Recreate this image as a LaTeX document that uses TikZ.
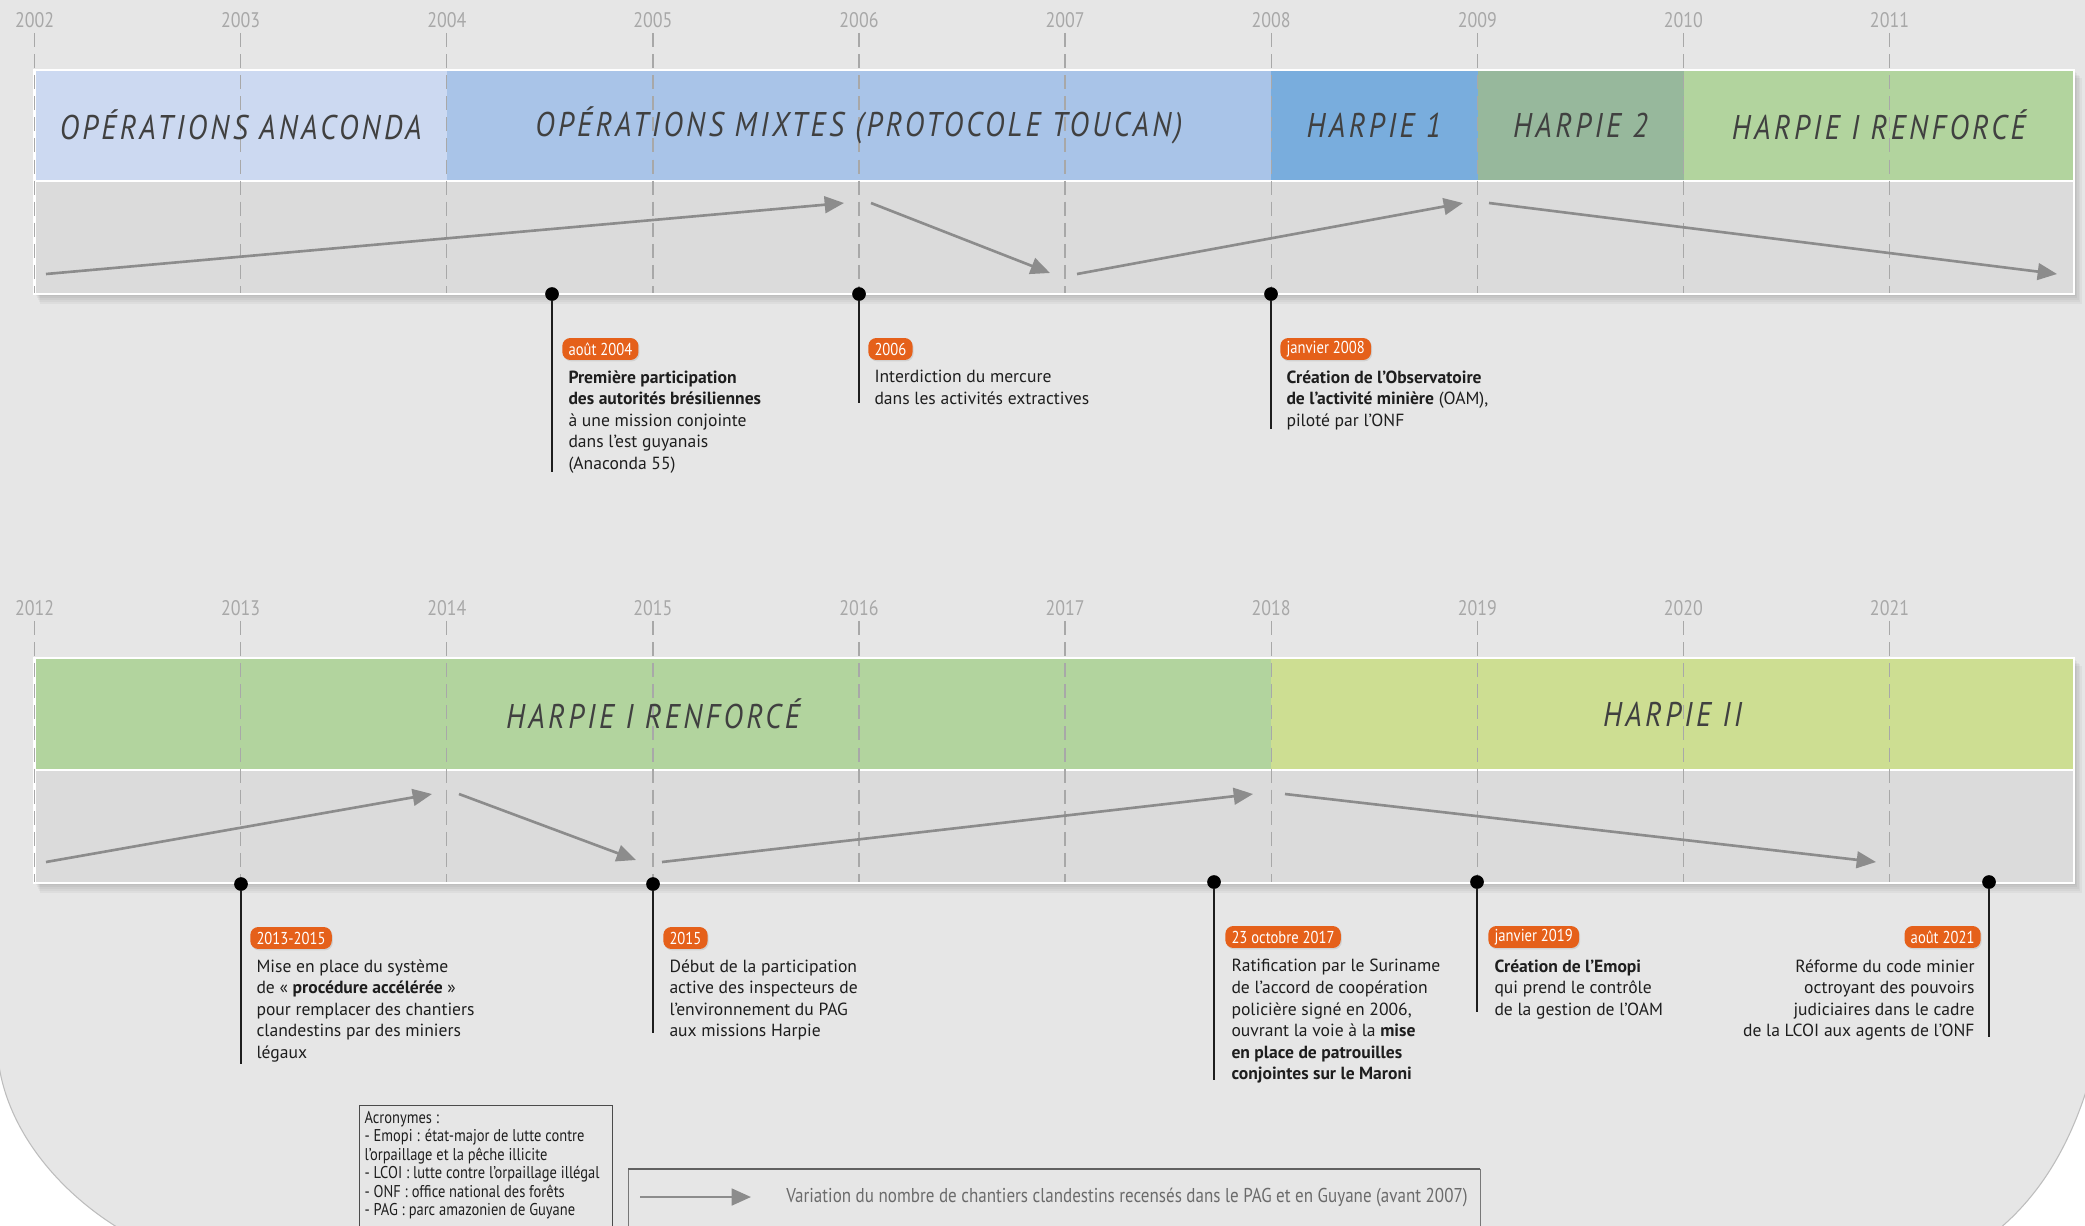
\documentclass[tikz,border=0pt]{standalone}
\usepackage{fontspec}
\setmainfont{PT Sans}
\newfontfamily\phasefont[FakeStretch=0.86, LetterSpace=10]{PT Sans}
\newfontfamily\condfont[FakeStretch=0.85]{PT Sans}
\usepackage{tikz}
\usetikzlibrary{arrows.meta, positioning, shadows}
\definecolor{page}    {HTML}{E6E6E6}
\definecolor{rim}     {HTML}{BDBDBD}
\definecolor{track}   {HTML}{DBDBDB}
\definecolor{anaconda}{HTML}{CCD9F1}
\definecolor{mixtes}  {HTML}{A9C4E8}
\definecolor{harpieA} {HTML}{79ADDD}
\definecolor{harpieB} {HTML}{97B89C}
\definecolor{renforce}{HTML}{B2D49E}
\definecolor{harpieII}{HTML}{CDDE92}
\definecolor{trend}   {HTML}{8C8C8C}
\definecolor{grid}    {HTML}{A8A8A8}
\definecolor{tag}     {HTML}{E5601A}
\definecolor{ink}     {HTML}{1E1E1E}
\definecolor{muted}   {HTML}{6B6B6B}

\begin{document}
\begin{tikzpicture}[x=0.2mm, y=-0.2mm,
    yearlabel/.style={font=\condfont\fontsize{12}{12}\selectfont, text=grid, inner sep=0pt},
    gridline/.style={grid, line width=0.7pt, dash pattern=on 8pt off 4pt},
    phaselabel/.style={font=\phasefont\itshape\fontsize{19.5}{20}\selectfont, text=ink!85},
    trendarrow/.style={trend, line width=1.5pt, -{Triangle[length=11pt, width=9.5pt]}},
    eventdot/.style={circle, fill=black, inner sep=0pt, minimum size=7.8pt},
    stem/.style={ink, line width=0.8pt},
    datetag/.style={fill=tag, text=white, rounded corners=4.5pt, inner xsep=3.5pt,
      inner ysep=0pt, minimum height=12.5pt, font=\condfont\fontsize{9.8}{10}\selectfont,
      drop shadow={opacity=0.2, shadow xshift=0.6pt, shadow yshift=-0.8pt}},
    eventtext/.style={font=\fontsize{10}{12.3}\selectfont, text=ink, inner xsep=3.5pt,
      inner ysep=0pt},
    boxline/.style={draw=ink!80, line width=0.5pt},
  ]
    \useasboundingbox (0,0) rectangle (2085,1225);
    \fill[white] (0,0) rectangle (2085,1225);
    \draw[rim, fill=page, line width=0.6pt] (-3,-5) -- (-3,1040)
      .. controls (-3,1130) and (70,1205) .. (140,1240) -- (1985,1240)
      .. controls (2040,1200) and (2075,1140) .. (2095,1060) -- (2095,-5) -- cycle;

    % --- bands -------------------------------------------------------------
    \foreach \s in {1,...,5} {
      \fill[black, opacity=0.035] (34.6+\s,70+1.5*\s) rectangle (2074+1.5*\s,294+2*\s);
      \fill[black, opacity=0.035] (34.6+\s,658+1.5*\s) rectangle (2074+1.5*\s,883+2*\s);
    }
    \fill[anaconda] (34.6,70)   rectangle (446.8,181);
    \fill[mixtes]   (446.8,70)  rectangle (1271,181);
    \fill[harpieA]  (1271,70)   rectangle (1477.5,181);
    \fill[harpieB]  (1477.5,70) rectangle (1683.6,181);
    \fill[renforce] (1683.6,70) rectangle (2074,181);
    \fill[track]    (34.6,181)  rectangle (2074,294);
    \draw[white, line width=1.4pt] (34.6,70) rectangle (2074,294) (34.6,181) -- (2074,181);

    \fill[renforce] (34.6,658)  rectangle (1271,770);
    \fill[harpieII] (1271,658)  rectangle (2074,770);
    \fill[track]    (34.6,770)  rectangle (2074,883);
    \draw[white, line width=1.4pt] (34.6,658) rectangle (2074,883) (34.6,770) -- (2074,770);

    % --- years -------------------------------------------------------------
    \foreach \k in {0,...,9} {
      \pgfmathsetmacro{\xx}{34.6+206.1*\k}
      \pgfmathtruncatemacro{\yra}{2002+\k}
      \pgfmathtruncatemacro{\yrb}{2012+\k}
      \node[yearlabel] (y\yra) at (\xx,20) {\yra};
      \draw[gridline] (y\yra.south) ++(0,5) -- (\xx,293);
      \node[yearlabel] (y\yrb) at (\xx,608) {\yrb};
      \draw[gridline] (y\yrb.south) ++(0,5) -- (\xx,882);
    }

    \node[phaselabel] (anaconda) at (240.7,125) {OPÉRATIONS ANACONDA};
    \node[phaselabel] (mixtes)   at (859,125)   {OPÉRATIONS MIXTES (PROTOCOLE TOUCAN)};
    \node[phaselabel] (harpie1)  at (1374,125)  {HARPIE 1};
    \node[phaselabel] (harpie2)  at (1580.5,125) {HARPIE 2};
    \node[phaselabel] (renfA)    at (1878.8,125) {HARPIE I RENFORCÉ};
    \node[phaselabel] (renfB)    at (653,714)   {HARPIE I RENFORCÉ};
    \node[phaselabel] (harpieII) at (1672.6,714) {HARPIE II};

    % --- trend arrows --------------------------------------------------------
    \coordinate (a1) at (46,274);   \coordinate (b1) at (844,203);
    \coordinate (a2) at (871,203);  \coordinate (b2) at (1050,273);
    \coordinate (a3) at (1077,274); \coordinate (b3) at (1463,203);
    \coordinate (a4) at (1489,203); \coordinate (b4) at (2057,274);
    \coordinate (a5) at (46,862);   \coordinate (b5) at (432,794);
    \coordinate (a6) at (459,794);  \coordinate (b6) at (636,860);
    \coordinate (a7) at (662,862);  \coordinate (b7) at (1253,794);
    \coordinate (a8) at (1285,794); \coordinate (b8) at (1876,862);
    \foreach \i in {1,...,8} \draw[trendarrow] (a\i) -- (b\i);

    % --- events, 2002-2011 ---------------------------------------------------
    \node[eventdot] (d04) at (552,294) {};
    \coordinate (s04) at (552,472);
    \draw[stem] (d04) -- (s04);
    \node[datetag, anchor=west] (t04) at (562,349) {août 2004};
    \node[eventtext, anchor=north west, align=left] (x04) at (562,370)
      {\textbf{Première participation}\\\textbf{des autorités brésiliennes}\\
       à une mission conjointe\\dans l’est guyanais\\(Anaconda 55)};

    \node[eventdot] (d06) at (859,294) {};
    \coordinate (s06) at (859,403);
    \draw[stem] (d06) -- (s06);
    \node[datetag, anchor=west] (t06) at (868,349) {2006};
    \node[eventtext, anchor=north west, align=left] (x06) at (868,370)
      {Interdiction du mercure\\dans les activités extractives};

    \node[eventdot] (d08) at (1271,294) {};
    \coordinate (s08) at (1271,429);
    \draw[stem] (d08) -- (s08);
    \node[datetag, anchor=west] (t08) at (1280,349) {janvier 2008};
    \node[eventtext, anchor=north west, align=left] (x08) at (1280,370)
      {\textbf{Création de l’Observatoire}\\\textbf{de l’activité minière} (OAM),\\
       piloté par l’ONF};

    % --- events, 2012-2021 ---------------------------------------------------
    \node[eventdot] (d13) at (241,884) {};
    \coordinate (s13) at (241,1064);
    \draw[stem] (d13) -- (s13);
    \node[datetag, anchor=west] (t13) at (250,938) {2013-2015};
    \node[eventtext, anchor=north west, align=left] (x13) at (250,959)
      {Mise en place du système\\de « \textbf{procédure accélérée} »\\
       pour remplacer des chantiers\\clandestins par des miniers\\légaux};

    \node[eventdot] (d15) at (653,884) {};
    \coordinate (s15) at (653,1033);
    \draw[stem] (d15) -- (s15);
    \node[datetag, anchor=west] (t15) at (663,938) {2015};
    \node[eventtext, anchor=north west, align=left] (x15) at (663,959)
      {Début de la participation\\active des inspecteurs de\\
       l’environnement du PAG\\aux missions Harpie};

    \node[eventdot] (d17) at (1214,882) {};
    \coordinate (s17) at (1214,1080);
    \draw[stem] (d17) -- (s17);
    \node[datetag, anchor=west] (t17) at (1225,937) {23 octobre 2017};
    \node[eventtext, anchor=north west, align=left] (x17) at (1225,959)
      {Ratification par le Suriname\\de l’accord de coopération\\
       policière signé en 2006,\\ouvrant la voie à la \textbf{mise}\\
       \textbf{en place de patrouilles}\\\textbf{conjointes sur le Maroni}};

    \node[eventdot] (d19) at (1477,882) {};
    \coordinate (s19) at (1477,1012);
    \draw[stem] (d19) -- (s19);
    \node[datetag, anchor=west] (t19) at (1488,937) {janvier 2019};
    \node[eventtext, anchor=north west, align=left] (x19) at (1488,959)
      {\textbf{Création de l’Emopi}\\qui prend le contrôle\\de la gestion de l’OAM};

    \node[eventdot] (d21) at (1989,882) {};
    \coordinate (s21) at (1989,1037);
    \draw[stem] (d21) -- (s21);
    \node[datetag, anchor=east] (t21) at (1981,937) {août 2021};
    \node[eventtext, anchor=north east, align=right] (x21) at (1981,959)
      {Réforme du code minier\\octroyant des pouvoirs\\judiciaires dans le cadre\\
       de la LCOI aux agents de l’ONF};

    % --- legend --------------------------------------------------------------
    \draw[boxline] (359,1240) |- (612,1105) -- (612,1240);
    \node[anchor=north west, inner xsep=3pt, inner ysep=0pt, align=left, text=ink,
      font=\condfont\fontsize{9.7}{10.5}\selectfont] (acro) at (359,1111)
      {Acronymes :\\- Emopi : état-major de lutte contre\\l’orpaillage et la pêche illicite\\
       - LCOI : lutte contre l’orpaillage illégal\\- ONF : office national des forêts\\
       - PAG : parc amazonien de Guyane};

    \draw[boxline, draw=ink!60] (628,1240) |- (1480,1169) -- (1480,1240);
    \draw[ink!70, line width=1pt] (628,1169) -- (1480,1169);
    \coordinate (k1) at (640,1197);
    \coordinate (k2) at (751,1197);
    \draw[trendarrow] (k1) -- (k2);
    \node[anchor=west, text=muted, inner sep=0pt,
      font=\condfont\fontsize{11.4}{12}\selectfont] (keytext) at (786,1197)
      {Variation du nombre de chantiers clandestins recensés dans le PAG et en Guyane (avant 2007)};
\end{tikzpicture}
\end{document}
